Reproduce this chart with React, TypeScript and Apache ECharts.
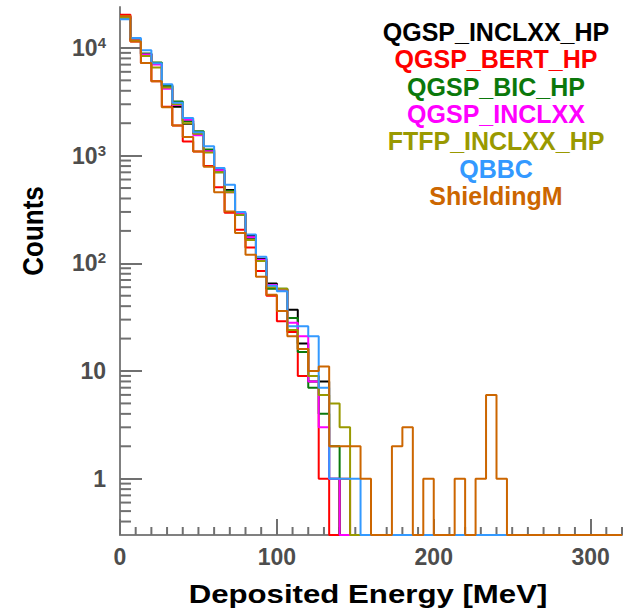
import React, { useEffect, useRef } from 'react';
import * as echarts from 'echarts';

// Histogram binning (MeV)
const binWidth = 20 / 3;
const nBins = 48;
const xMin = 0;
const xMax = 320;
const yMin = 0.3;
const yMax = 24000;

// Tick values / labels
const xMajorTicks = [0, 100, 200, 300];
const xMinorTicks = [10, 20, 30, 40, 50, 60, 70, 80, 90, 110, 120, 130, 140, 150, 160, 170, 180, 190, 210, 220, 230, 240, 250, 260, 270, 280, 290, 310, 320];
const yMajorTicks = [1, 10, 100, 1000, 10000];
const yMinorTicks = [0.4, 0.5, 0.6, 0.7, 0.8, 0.9, 2, 3, 4, 5, 6, 7, 8, 9, 20, 30, 40, 50, 60, 70, 80, 90, 200, 300, 400, 500, 600, 700, 800, 900, 2000, 3000, 4000, 5000, 6000, 7000, 8000, 9000, 20000];

const seriesNames = ['QGSP_INCLXX_HP', 'QGSP_BERT_HP', 'QGSP_BIC_HP', 'QGSP_INCLXX', 'FTFP_INCLXX_HP', 'QBBC', 'ShieldingM'];
const seriesColors = ['#000000', '#ff0000', '#0b780b', '#ff00ff', '#999900', '#3399ff', '#cc6600'];

// Counts per bin (bins not listed are empty)
const qgspInclxxHp = [19500, 11900, 8800, 7100, 4450, 2850, 1980, 1600, 1120, 730, 480, 290, 180, 110, 65, 57, 37, 18, 8, 8, 1];
const qgspBertHp = [20300, 11500, 7250, 4900, 2850, 1900, 1350, 1090, 800, 508, 295, 205, 140, 85, 50, 29, 23, 9, 9, 1, 0, 1];
const qgspBicHp = [18800, 12000, 8900, 7330, 4470, 3190, 2100, 1680, 1140, 700, 470, 282, 170, 105, 58, 58, 31, 15, 7, 4, 2];
const qgspInclxx = [19300, 11800, 8700, 7000, 4170, 2950, 2150, 1550, 1100, 730, 456, 290, 175, 108, 63, 57, 28, 21, 8, 3, 1];
const ftfpInclxxHp = [19000, 11700, 8400, 6600, 4300, 3000, 2000, 1600, 1070, 700, 456, 282, 165, 105, 60, 58, 24, 16, 9, 6, 5, 3];
const qbbc = [18500, 12400, 9500, 7200, 4600, 3100, 2230, 1650, 1220, 767, 537, 300, 185, 115, 62, 55, 26, 26, 21, 7, 1, 1, 1];
const shieldingM = [19800, 11500, 7250, 4900, 2820, 1900, 1490, 1090, 790, 456, 303, 191, 120, 75, 51, 36, 21, 16, 10, 11, 2, 2, 2, 1, 0, 0, 2, 3, 0, 1, 0, 0, 1, 0, 1, 6, 1];

const allCounts = [qgspInclxxHp, qgspBertHp, qgspBicHp, qgspInclxx, ftfpInclxxHp, qbbc, shieldingM];

const xTitle = 'Deposited Energy [MeV]';
const yTitle = 'Counts';

function histPoints(counts: number[]): number[][] {
  const pts: number[][] = [];
  let last = yMin;
  for (let i = 0; i < nBins; i++) {
    const c = counts[i] ?? 0;
    const v = c > 0 ? c : yMin; // empty bins drawn on the frame bottom
    pts.push([i * binWidth, v]);
    last = v;
  }
  pts.push([xMax, last]);
  return pts;
}

const tickGrey = '#707070';
const labelGrey = '#4d4d4d';

export default function App() {
  const ref = useRef<HTMLDivElement>(null);
  useEffect(() => {
    document.body.style.margin = '0';
    if (!ref.current) return;
    const chart = echarts.init(ref.current, null, { renderer: 'svg' });

    const histSeries = allCounts.map((counts, k) => ({
      type: 'line',
      name: seriesNames[k],
      step: 'end',
      data: histPoints(counts),
      showSymbol: false,
      symbol: 'none',
      clip: false,
      lineStyle: { color: seriesColors[k], width: 2 },
      itemStyle: { color: seriesColors[k] },
      silent: true,
    }));

    const yMinorSeries = {
      type: 'custom',
      silent: true,
      clip: false,
      data: yMinorTicks.map((v) => [xMin, v]),
      renderItem: (params: any, api: any) => {
        const p = api.coord([api.value(0), api.value(1)]);
        return {
          type: 'line',
          shape: { x1: p[0], y1: p[1], x2: p[0] + 11, y2: p[1] },
          style: { stroke: tickGrey, lineWidth: 2 },
        };
      },
    };
    const xMinorSeries = {
      type: 'custom',
      silent: true,
      clip: false,
      data: xMinorTicks.map((v) => [v, yMin]),
      renderItem: (params: any, api: any) => {
        const p = api.coord([api.value(0), api.value(1)]);
        return {
          type: 'line',
          shape: { x1: p[0], y1: p[1], x2: p[0], y2: p[1] - 8 },
          style: { stroke: tickGrey, lineWidth: 2 },
        };
      },
    };

    const legendX = 496;
    const legendY0 = 32;
    const legendDy = 27.3;
    const legendTexts = seriesNames.map((n, k) => ({
      type: 'text',
      x: legendX,
      y: legendY0 + k * legendDy,
      style: {
        text: n,
        fill: seriesColors[k],
        font: 'bold 25px "Liberation Sans", Arial, sans-serif',
        lineHeight: 25,
        textAlign: 'center',
        textVerticalAlign: 'middle',
      },
      silent: true,
    }));

    chart.setOption({
      animation: false,
      grid: { left: 120, right: 3, top: 7, bottom: 78, containLabel: false },
      xAxis: {
        type: 'value',
        min: xMin,
        max: xMax,
        interval: 100,
        axisLine: { show: true, lineStyle: { color: '#808080', width: 2 } },
        axisTick: { show: true, inside: true, length: 16, customValues: xMajorTicks, lineStyle: { color: tickGrey, width: 2 } },
        axisLabel: {
          customValues: xMajorTicks,
          margin: 10,
          color: labelGrey,
          fontSize: 23,
          fontWeight: 'bold',
          fontFamily: '"Liberation Sans", Arial, sans-serif',
        },
        splitLine: { show: false },
      },
      yAxis: {
        type: 'log',
        logBase: 10,
        min: yMin,
        max: yMax,
        axisLine: { show: true, lineStyle: { color: '#808080', width: 2 } },
        axisTick: { show: true, inside: true, length: 22, customValues: yMajorTicks, lineStyle: { color: tickGrey, width: 2 } },
        axisLabel: {
          customValues: yMajorTicks,
          margin: 14,
          color: labelGrey,
          fontSize: 23,
          fontWeight: 'bold',
          fontFamily: '"Liberation Sans", Arial, sans-serif',
          formatter: (v: number) => {
            const e = Math.round(Math.log10(v));
            if (e === 0) return '{b|1}';
            if (e === 1) return '{b|10}';
            return '{b|10}{s|' + e + '}';
          },
          rich: {
            b: {
              fontSize: 23,
              fontWeight: 'bold',
              color: labelGrey,
              fontFamily: '"Liberation Sans", Arial, sans-serif',
              lineHeight: 26,
            },
            s: {
              fontSize: 15,
              fontWeight: 'bold',
              color: labelGrey,
              fontFamily: '"Liberation Sans", Arial, sans-serif',
              lineHeight: 15,
              verticalAlign: 'top',
            },
          },
        },
        splitLine: { show: false },
      },
      series: [...histSeries, yMinorSeries, xMinorSeries],
      graphic: [
        ...legendTexts,
        {
          type: 'text',
          x: 368,
          y: 594,
          scaleX: 1.2,
          style: {
            text: xTitle,
            fill: '#000',
            font: 'bold 26px "Liberation Sans", Arial, sans-serif',
            textAlign: 'center',
            textVerticalAlign: 'middle',
          },
          silent: true,
        },
        {
          type: 'text',
          x: 33,
          y: 231,
          rotation: Math.PI / 2,
          scaleY: 1.15,
          style: {
            text: yTitle,
            fill: '#000',
            font: 'bold 26px "Liberation Sans", Arial, sans-serif',
            textAlign: 'center',
            textVerticalAlign: 'middle',
          },
          silent: true,
        },
      ],
    });
    return () => chart.dispose();
  }, []);
  return <div ref={ref} style={{ width: 625, height: 613 }} />;
}
